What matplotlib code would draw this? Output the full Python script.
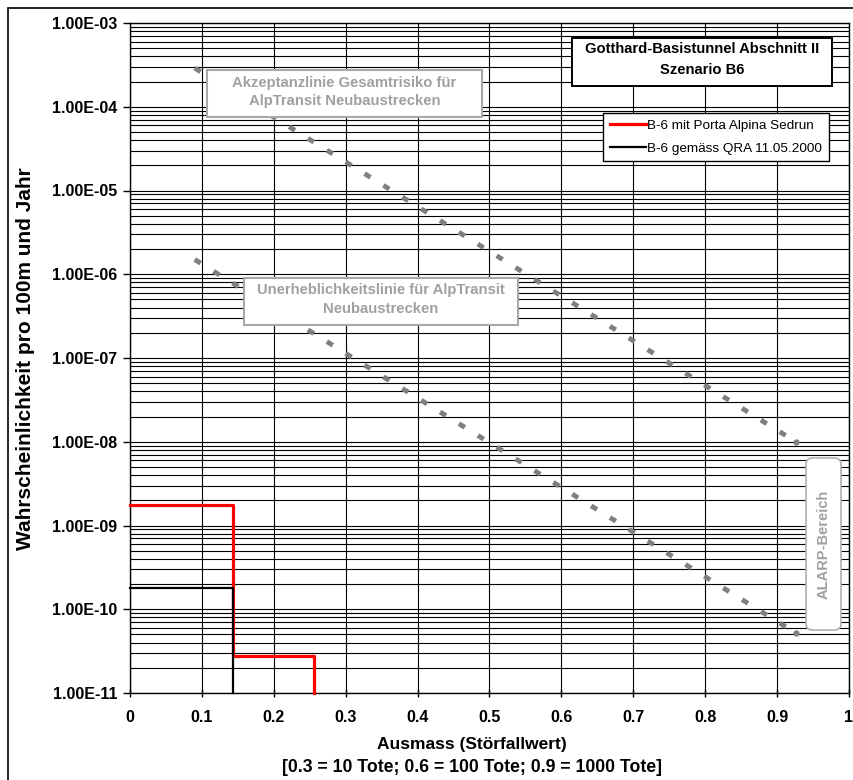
import matplotlib
matplotlib.use("Agg")
import matplotlib.pyplot as plt
from matplotlib.patches import Rectangle, FancyBboxPatch
from matplotlib.ticker import FixedLocator, NullFormatter

plt.rcParams['font.family'] = ['Liberation Sans', 'DejaVu Sans']
plt.rcParams['lines.scale_dashes'] = False

"""
data
"""
x_ticks = [0, 0.1, 0.2, 0.3, 0.4, 0.5, 0.6, 0.7, 0.8, 0.9, 1]
x_tick_labels = ['0', '0.1', '0.2', '0.3', '0.4', '0.5', '0.6', '0.7', '0.8', '0.9', '1']
y_ticks = [1e-11, 1e-10, 1e-9, 1e-8, 1e-7, 1e-6, 1e-5, 1e-4, 1e-3]
y_tick_labels = ['1.00E-11', '1.00E-10', '1.00E-09', '1.00E-08', '1.00E-07',
                 '1.00E-06', '1.00E-05', '1.00E-04', '1.00E-03']

# Summenkurven (Treppen)
porta_x = [0, 0.143, 0.143, 0.256, 0.256]
porta_y = [1.78e-9, 1.78e-9, 2.8e-11, 2.8e-11, 1e-11]
qra_x = [0, 0.143, 0.143]
qra_y = [1.8e-10, 1.8e-10, 1e-11]

# Akzeptanz- und Unerheblichkeitslinie (Endpunkte)
akz_x = [0.09, 0.926]
akz_y = [2.9e-4, 1.0e-8]
uner_x = [0.09, 0.926]
uner_y = [1.5e-6, 5.2e-11]

"""
figure
"""
W, H = 854, 780
fig = plt.figure(figsize=(W / 100, H / 100), dpi=100)

def fx(px):
    return px / W

def fy(py):
    return 1 - py / H

# outer frame
fig.patches.append(Rectangle((fx(8), fy(790)), fx(860) - fx(8), fy(8) - fy(790),
                             transform=fig.transFigure, fill=False,
                             edgecolor='black', linewidth=1.2))

ax = fig.add_axes([fx(130), fy(693), fx(849) - fx(130), fy(23) - fy(693)])
ax.set_yscale('log')
ax.set_xlim(0, 1)
ax.set_ylim(1e-11, 1e-3)

# grid
ax.xaxis.set_major_locator(FixedLocator(x_ticks))
ax.set_xticklabels(x_tick_labels, fontsize=11.5, fontweight='bold')
ax.yaxis.set_major_locator(FixedLocator(y_ticks))
ax.set_yticklabels(y_tick_labels, fontsize=11.5, fontweight='bold')
ax.yaxis.set_minor_formatter(NullFormatter())
ax.grid(True, which='major', color='black', linewidth=0.8)
ax.grid(True, which='minor', axis='y', color='black', linewidth=0.8)
ax.tick_params(axis='y', which='major', direction='out', length=5, width=1, pad=4)
ax.tick_params(axis='y', which='minor', length=0)
ax.tick_params(axis='x', which='major', direction='inout', length=6, width=1, pad=9)
for s in ax.spines.values():
    s.set_linewidth(1)

# Linien
for lx, ly in [(akz_x, akz_y), (uner_x, uner_y)]:
    ax.plot(lx, ly, color='#7f7f7f', linewidth=3.5, dashes=(5, 11),
            dash_capstyle='butt', zorder=3)
    ax.plot(lx[-1:], ly[-1:], color='#7f7f7f', marker='o', markersize=3.5,
            linestyle='none', zorder=3)
ax.plot(porta_x, porta_y, color='#ff0000', linewidth=2.3,
        label='B-6 mit Porta Alpina Sedrun', zorder=4, clip_on=False)
ax.plot(qra_x, qra_y, color='black', linewidth=1.6,
        label='B-6 gemäss QRA 11.05.2000', zorder=5, clip_on=False)

fig.text(fx(26), fy(359), 'Wahrscheinlichkeit pro 100m und Jahr', rotation=90,
         ha='center', va='center', fontsize=15, fontweight='bold')
fig.text(fx(472), fy(745), 'Ausmass (Störfallwert)', ha='center', va='center',
         fontsize=12.5, fontweight='bold')
fig.text(fx(472), fy(767), '[0.3 = 10 Tote; 0.6 = 100 Tote; 0.9 = 1000 Tote]',
         ha='center', va='center', fontsize=12.7, fontweight='bold')

"""
text boxes
"""
def box(x0, y0, x1, y1, ec, lw=1.2, rounded=False):
    if rounded:
        p = FancyBboxPatch((fx(x0), fy(y1)), fx(x1) - fx(x0), fy(y0) - fy(y1),
                           boxstyle='round,pad=0,rounding_size=0.008',
                           transform=fig.transFigure, facecolor='white',
                           edgecolor=ec, linewidth=lw, zorder=6)
    else:
        p = Rectangle((fx(x0), fy(y1)), fx(x1) - fx(x0), fy(y0) - fy(y1),
                      transform=fig.transFigure, facecolor='white',
                      edgecolor=ec, linewidth=lw, zorder=6)
    fig.patches.append(p)

box(572, 38, 832, 86, 'black', lw=1.4)
fig.text(fx(702), fy(59.5), 'Gotthard-Basistunnel Abschnitt II\nSzenario B6',
         ha='center', va='center', fontsize=10.6, fontweight='bold',
         linespacing=1.55, zorder=7)

box(207, 70, 482, 117, '#a8a8a8', lw=1.5)
fig.text(fx(344.5), fy(92), 'Akzeptanzlinie Gesamtrisiko für\nAlpTransit Neubaustrecken',
         ha='center', va='center', fontsize=10.7, fontweight='bold', color='#a0a0a0',
         linespacing=1.4, zorder=7)

box(244, 278, 518, 325, '#a8a8a8', lw=1.5)
fig.text(fx(381), fy(299.5), 'Unerheblichkeitslinie für AlpTransit\nNeubaustrecken',
         ha='center', va='center', fontsize=10.7, fontweight='bold', color='#a0a0a0',
         linespacing=1.4, zorder=7)

box(806, 458, 841, 630, '#b0b0b0', rounded=True)
fig.text(fx(823.5), fy(544), 'ALARP-Bereich', rotation=90, ha='center', va='center',
         fontsize=10.5, fontweight='bold', color='#a0a0a0', zorder=7)

leg = ax.legend(loc='upper left', bbox_to_anchor=(fx(603), fy(113)),
                bbox_transform=fig.transFigure, fontsize=9.7, frameon=True,
                fancybox=False, edgecolor='black', framealpha=1,
                handlelength=2.7, handletextpad=0.1, borderpad=0.5,
                labelspacing=0.75, borderaxespad=0)
leg.get_frame().set_linewidth(1)
leg.set_zorder(8)

fig.savefig('out.png', dpi=100)
